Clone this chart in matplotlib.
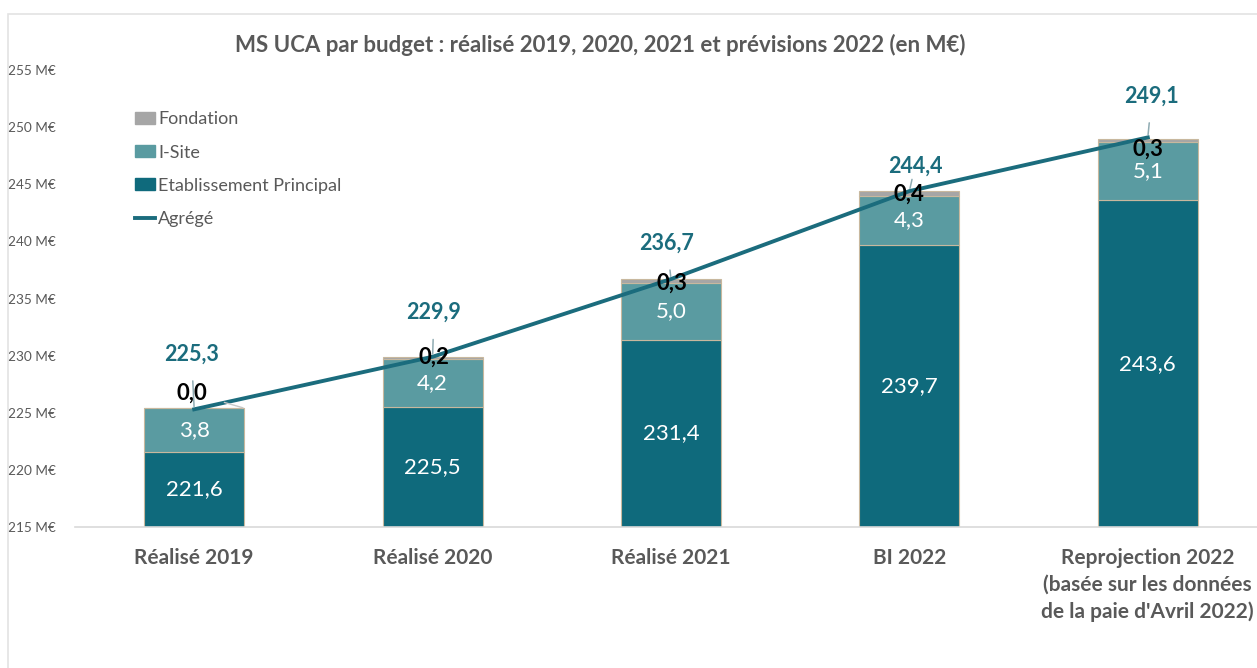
import matplotlib
matplotlib.use("Agg")
import matplotlib.pyplot as plt
from matplotlib.patches import Patch, Rectangle
from matplotlib.lines import Line2D

plt.rcParams['font.family'] = ['Lato', 'DejaVu Sans']

# donnees
categories = ["Réalisé 2019", "Réalisé 2020", "Réalisé 2021", "BI 2022",
              "Reprojection 2022\n(basée sur les données\nde la paie d'Avril 2022)"]
etablissement = [221.6, 225.5, 231.4, 239.7, 243.6]
isite = [3.8, 4.2, 5.0, 4.3, 5.1]
fondation = [0.0, 0.2, 0.3, 0.4, 0.3]
agrege = [225.3, 229.9, 236.7, 244.4, 249.1]
yticks = [215, 220, 225, 230, 235, 240, 245, 250, 255]

# decalages des etiquettes (points)
off_agr = [(-2, 40), (1, 32), (-3, 26), (4, 18), (3, 30)]
off_fon = [(0, 11), (1, 0), (1, -3), (0, -2), (0, -8)]

c_etab = "#0f6a7c"
c_isite = "#5a9ba1"
c_fond = "#a6a6a6"
c_line = "#1b6c7d"
c_text = "#595959"
c_edge = "#c8b89e"


def fr(v):
    return "{:.1f}".format(v).replace(".", ",")


fig = plt.figure(figsize=(12.57, 6.68), dpi=100)
fig.patches.append(Rectangle((8 / 1257, -0.1), 1.2, (668 - 14) / 668 + 0.1,
                             transform=fig.transFigure, fill=False,
                             edgecolor="#e3e3e3", lw=1.2))
ax = fig.add_axes([75 / 1257, 141 / 668, 1192 / 1257, 457 / 668])

x = list(range(len(categories)))
w = 0.42
ax.bar(x, etablissement, w, color=c_etab, edgecolor=c_edge, lw=0.8, zorder=2)
bot2 = [e for e in etablissement]
ax.bar(x, isite, w, bottom=bot2, color=c_isite, edgecolor=c_edge, lw=0.8, zorder=2)
bot3 = [e + s for e, s in zip(etablissement, isite)]
ax.bar(x, fondation, w, bottom=bot3, color=c_fond, edgecolor=c_edge, lw=0.8, zorder=2)
ax.plot(x, agrege, color=c_line, lw=2.8, zorder=4)

ax.set_xlim(-0.5, 4.5)
ax.set_ylim(215, 255)
ax.set_yticks(yticks)
ax.set_yticklabels(["{} M€".format(t) for t in yticks], fontsize=9.8, color=c_text)
ax.set_xticks(x)
ax.set_xticklabels(categories, fontsize=15, fontweight="bold", color=c_text,
                   linespacing=1.42)
ax.tick_params(axis="y", length=0, pad=14)
ax.tick_params(axis="x", length=0, pad=15)
for s in ["top", "right", "left"]:
    ax.spines[s].set_visible(False)
ax.spines["bottom"].set_color("#d9d9d9")
ax.spines["bottom"].set_linewidth(1.2)

for i in x:
    ax.text(i, (215 + etablissement[i]) / 2, fr(etablissement[i]), ha="center",
            va="center", color="white", fontsize=16, zorder=5)
    ax.text(i, bot2[i] + isite[i] / 2, fr(isite[i]), ha="center", va="center",
            color="white", fontsize=16, zorder=5)
    top = bot3[i] + fondation[i]
    fon_arrow = None
    if i == 0:
        fon_arrow = dict(arrowstyle="-", color="#c8c8c8", lw=1,
                         shrinkA=11, shrinkB=1)
    ax.annotate(fr(fondation[i]), (i + (w / 2 if i == 0 else 0), top),
                xytext=(off_fon[i][0] - (38 if i == 0 else 0), off_fon[i][1]),
                textcoords="offset points", ha="center", va="center",
                fontsize=16, fontweight="bold", color="black", zorder=6,
                arrowprops=fon_arrow)
    ax.annotate(fr(agrege[i]), (i, agrege[i]), xytext=off_agr[i],
                textcoords="offset points", ha="center", va="center",
                fontsize=15.5, fontweight="bold", color=c_line, zorder=6,
                arrowprops=dict(arrowstyle="-", color="#8fabb2", lw=1.1,
                                shrinkA=10, shrinkB=2))

handles = [Patch(color=c_fond), Patch(color=c_isite), Patch(color=c_etab),
           Line2D([0], [0], color=c_line, lw=2.8)]
labels = ["Fondation", "I-Site", "Etablissement Principal", "Agrégé"]
leg = ax.legend(handles, labels, loc="upper left", bbox_to_anchor=(0.037, 0.945),
                frameon=False, fontsize=13, labelspacing=0.95, handlelength=1.1,
                handleheight=0.65, handletextpad=0.15)
for t in leg.get_texts():
    t.set_color(c_text)

fig.text(600 / 1257, 1 - 45 / 668,
         "MS UCA par budget : réalisé 2019, 2020, 2021 et prévisions 2022 (en M€)",
         ha="center", va="center", fontsize=16, fontweight="bold", color=c_text)

fig.savefig("out.png", dpi=100)
